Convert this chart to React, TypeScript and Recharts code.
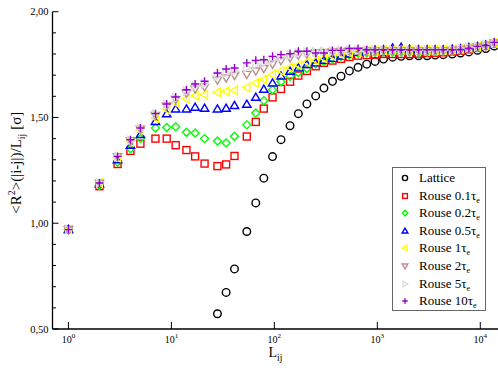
import React from 'react';
import { ScatterChart, Scatter, XAxis, YAxis } from 'recharts';

// chain length L_ij (shared by all series)
const lij = [1, 2, 3, 4, 5, 7, 9, 11, 14, 17, 21, 28, 34, 41, 54, 66, 79, 96, 116, 142, 171, 207, 252, 303, 367, 444, 536, 650, 789, 951, 1149, 1406, 1703, 2055, 2515, 3049, 3645, 4365, 5346, 6430, 7740, 9400, 11320, 13680];

const lattice = [null, null, null, null, null, null, null, null, null, null, null,
  0.572, 0.673, 0.784, 0.961, 1.096, 1.213, 1.315, 1.395, 1.461, 1.518, 1.564, 1.602, 1.639, 1.671, 1.695, 1.72, 1.737, 1.752, 1.765, 1.776, 1.785, 1.789, 1.792, 1.792, 1.792, 1.795, 1.797, 1.8, 1.805, 1.81, 1.818, 1.826, 1.838];
const rouse01 = [0.97, 1.175, 1.28, 1.342, 1.376, 1.4, 1.4, 1.369, 1.346, 1.316, 1.282, 1.27, 1.278, 1.318, 1.41, 1.479, 1.542, 1.595, 1.635, 1.669, 1.698, 1.72, 1.742, 1.758, 1.769, 1.777, 1.786, 1.792, 1.795, 1.797, 1.8, 1.8, 1.8, 1.8, 1.802, 1.804, 1.806, 1.808, 1.812, 1.816, 1.822, 1.83, 1.838, 1.85];
const rouse02 = [0.97, 1.18, 1.288, 1.352, 1.4, 1.45, 1.453, 1.456, 1.43, 1.427, 1.4, 1.389, 1.379, 1.411, 1.465, 1.521, 1.579, 1.631, 1.669, 1.694, 1.713, 1.732, 1.753, 1.765, 1.777, 1.789, 1.797, 1.803, 1.806, 1.808, 1.81, 1.81, 1.81, 1.81, 1.81, 1.81, 1.812, 1.814, 1.816, 1.82, 1.825, 1.831, 1.839, 1.85];
const rouse05 = [0.97, 1.185, 1.3, 1.368, 1.419, 1.481, 1.517, 1.54, 1.54, 1.548, 1.543, 1.54, 1.543, 1.556, 1.562, 1.595, 1.633, 1.663, 1.696, 1.718, 1.734, 1.75, 1.758, 1.77, 1.78, 1.79, 1.8, 1.808, 1.814, 1.818, 1.82, 1.828, 1.832, 1.822, 1.82, 1.82, 1.82, 1.82, 1.822, 1.825, 1.83, 1.835, 1.842, 1.852];
const rouse1 = [0.97, 1.19, 1.31, 1.385, 1.44, 1.498, 1.537, 1.569, 1.588, 1.603, 1.608, 1.619, 1.624, 1.628, 1.642, 1.663, 1.679, 1.702, 1.72, 1.736, 1.748, 1.762, 1.77, 1.78, 1.79, 1.798, 1.805, 1.81, 1.814, 1.816, 1.818, 1.82, 1.82, 1.82, 1.82, 1.82, 1.82, 1.82, 1.822, 1.825, 1.83, 1.835, 1.842, 1.852];
const rouse2 = [0.97, 1.19, 1.315, 1.39, 1.445, 1.51, 1.555, 1.585, 1.615, 1.635, 1.645, 1.677, 1.687, 1.699, 1.704, 1.72, 1.732, 1.752, 1.769, 1.783, 1.794, 1.8, 1.805, 1.808, 1.81, 1.812, 1.814, 1.815, 1.815, 1.815, 1.815, 1.815, 1.815, 1.815, 1.815, 1.815, 1.815, 1.815, 1.818, 1.822, 1.828, 1.834, 1.842, 1.852];
const rouse5 = [0.97, 1.19, 1.315, 1.392, 1.448, 1.515, 1.56, 1.592, 1.624, 1.648, 1.66, 1.695, 1.71, 1.718, 1.735, 1.75, 1.758, 1.772, 1.785, 1.795, 1.805, 1.808, 1.81, 1.812, 1.814, 1.816, 1.818, 1.818, 1.818, 1.818, 1.818, 1.818, 1.818, 1.818, 1.818, 1.818, 1.818, 1.818, 1.82, 1.824, 1.83, 1.835, 1.842, 1.852];
const rouse10 = [0.97, 1.19, 1.316, 1.395, 1.45, 1.518, 1.564, 1.597, 1.631, 1.658, 1.671, 1.71, 1.729, 1.734, 1.758, 1.77, 1.773, 1.789, 1.797, 1.802, 1.813, 1.813, 1.805, 1.805, 1.817, 1.817, 1.826, 1.826, 1.82, 1.82, 1.82, 1.82, 1.82, 1.82, 1.82, 1.82, 1.82, 1.82, 1.82, 1.82, 1.826, 1.836, 1.84, 1.855];

const xTicks = [1, 10, 100, 1000, 10000];
const yTicks = [0.5, 0.6, 0.7, 0.8, 0.9, 1.0, 1.1, 1.2, 1.3, 1.4, 1.5, 1.6, 1.7, 1.8, 1.9, 2.0];

const FONT = "'Liberation Serif', 'Times New Roman', serif";

type Kind = 'circle' | 'square' | 'diamond' | 'up' | 'left' | 'down' | 'right' | 'plus';

const series: { name: string; sub: boolean; values: (number | null)[]; kind: Kind; color: string }[] = [
  { name: 'Lattice', sub: false, values: lattice, kind: 'circle', color: '#000000' },
  { name: 'Rouse 0.1τ', sub: true, values: rouse01, kind: 'square', color: '#ff0000' },
  { name: 'Rouse 0.2τ', sub: true, values: rouse02, kind: 'diamond', color: '#00ff00' },
  { name: 'Rouse 0.5τ', sub: true, values: rouse05, kind: 'up', color: '#0000ff' },
  { name: 'Rouse 1τ', sub: true, values: rouse1, kind: 'left', color: '#ffff00' },
  { name: 'Rouse 2τ', sub: true, values: rouse2, kind: 'down', color: '#bc8f8f' },
  { name: 'Rouse 5τ', sub: true, values: rouse5, kind: 'right', color: '#dcdcdc' },
  { name: 'Rouse 10τ', sub: true, values: rouse10, kind: 'plus', color: '#9400d3' },
];

function Marker({ kind, color, cx, cy, s = 1 }: { kind: Kind; color: string; cx: number; cy: number; s?: number }) {
  const p = { fill: 'none', stroke: color, strokeWidth: 1.4 };
  const h = 4 * s;
  const t = 4.2 * s;
  switch (kind) {
    case 'circle':
      return <circle cx={cx} cy={cy} r={3.8 * s} {...p} />;
    case 'square':
      return <rect x={cx - 3.5 * s} y={cy - 3.5 * s} width={7 * s} height={7 * s} {...p} />;
    case 'diamond':
      return <polygon points={`${cx},${cy - h} ${cx + h},${cy} ${cx},${cy + h} ${cx - h},${cy}`} {...p} />;
    case 'up':
      return <polygon points={`${cx},${cy - t} ${cx + t},${cy + t * 0.7} ${cx - t},${cy + t * 0.7}`} {...p} />;
    case 'down':
      return <polygon points={`${cx},${cy + t} ${cx + t},${cy - t * 0.7} ${cx - t},${cy - t * 0.7}`} {...p} />;
    case 'left':
      return <polygon points={`${cx - t},${cy} ${cx + t * 0.7},${cy - t} ${cx + t * 0.7},${cy + t}`} {...p} />;
    case 'right':
      return <polygon points={`${cx + t},${cy} ${cx - t * 0.7},${cy - t} ${cx - t * 0.7},${cy + t}`} {...p} />;
    default:
      return <path d={`M${cx - h},${cy}H${cx + h}M${cx},${cy - h}V${cy + h}`} {...p} strokeWidth={1.4} />;
  }
}

const BottomTick = (props: any) => {
  const { x, y, payload } = props;
  const exp = Math.round(Math.log10(payload.value));
  return (
    <g>
      <line x1={x} x2={x} y1={y} y2={y - 7} stroke="#000" strokeWidth={1} />
      <text x={x} y={y + 14} textAnchor="middle" fontFamily={FONT} fontSize={10} fill="#000">
        <tspan>10</tspan>
        <tspan dy={-5} fontSize={7}>{exp}</tspan>
      </text>
    </g>
  );
};

const TopTick = (props: any) => {
  const { x, y } = props;
  return <line x1={x} x2={x} y1={y} y2={y + 7} stroke="#000" strokeWidth={1} />;
};

const LeftTick = (props: any) => {
  const { x, y, payload } = props;
  const v = payload.value;
  const major = Math.abs(v * 2 - Math.round(v * 2)) < 1e-6;
  return (
    <g>
      <line x1={x} x2={x + (major ? 6 : 3.5)} y1={y} y2={y} stroke="#000" strokeWidth={1} />
      {major && (
        <text x={x - 4} y={y + 3.5} textAnchor="end" fontFamily={FONT} fontSize={10.5} fill="#000">
          {v.toFixed(2).replace('.', ',')}
        </text>
      )}
    </g>
  );
};

function Legend() {
  return (
    <div
      style={{
        position: 'absolute',
        left: 392,
        top: 167,
        width: 92,
        height: 142,
        border: '1px solid #666',
        background: '#fff',
        fontFamily: FONT,
        fontSize: 13,
        color: '#000',
      }}
    >
      {series.map((s, i) => (
        <div key={s.name} style={{ position: 'absolute', left: 0, top: 1 + i * 17.6, height: 17.6, width: 92 }}>
          <svg width={20} height={18} style={{ position: 'absolute', left: 2, top: 0 }}>
            <Marker kind={s.kind} color={s.color} cx={10} cy={9} s={0.68} />
          </svg>
          <span style={{ position: 'absolute', left: 26, top: 0, lineHeight: '17px', whiteSpace: 'nowrap' }}>
            {s.name}
            {s.sub && <span style={{ fontSize: 8, position: 'relative', top: 3 }}>e</span>}
          </span>
        </div>
      ))}
    </div>
  );
}

export default function App() {
  return (
    <div style={{ position: 'absolute', left: 0, top: 0, width: 498, height: 385, overflow: 'hidden', background: '#fff' }}>
      <ScatterChart width={500} height={385} margin={{ top: 11.7, right: 1.6, bottom: 0, left: 0 }}>
        <XAxis
          type="number"
          dataKey="x"
          scale="log"
          domain={[0.7, 15000]}
          allowDataOverflow
          ticks={xTicks}
          height={56}
          tickSize={0}
          tickMargin={0}
          tickLine={false}
          axisLine={{ stroke: '#000', strokeWidth: 1.3 }}
          tick={<BottomTick />}
          interval={0}
          label={{
            content: (
              <text x={277} y={360} textAnchor="middle" fontFamily={FONT} fontSize={14} fill="#000">
                <tspan>L</tspan>
                <tspan dy={4} fontSize={9.5}>ij</tspan>
              </text>
            ),
          }}
        />
        <XAxis
          xAxisId="top"
          orientation="top"
          type="number"
          dataKey="x"
          scale="log"
          domain={[0.7, 15000]}
          allowDataOverflow
          ticks={xTicks}
          height={0}
          tickSize={0}
          tickMargin={0}
          tickLine={false}
          interval={0}
          axisLine={{ stroke: '#000', strokeWidth: 1.3 }}
          tick={<TopTick />}
        />
        <YAxis
          type="number"
          dataKey="y"
          domain={[0.5, 2.0]}
          allowDataOverflow
          ticks={yTicks}
          interval={0}
          width={52.5}
          tickSize={0}
          tickMargin={0}
          tickLine={false}
          axisLine={{ stroke: '#000', strokeWidth: 1.3 }}
          tick={<LeftTick />}
          label={{
            content: (
              <text
                x={20}
                y={169}
                transform="rotate(-90, 20, 169)"
                textAnchor="middle"
                fontFamily={FONT}
                fontSize={15}
                fill="#000"
              >
                <tspan>&lt;R</tspan>
                <tspan dy={-6} fontSize={10}>2</tspan>
                <tspan dy={6}>&gt;(|i-j|)/L</tspan>
                <tspan dy={4} fontSize={10}>ij</tspan>
                <tspan dy={-4}> [σ]</tspan>
              </text>
            ),
          }}
        />
        {series.map((s) => (
          <Scatter
            key={s.name}
            name={s.name}
            data={lij
              .map((x, i) => ({ x, y: s.values[i] }))
              .filter((d) => d.y !== null)}
            isAnimationActive={false}
            shape={(p: any) => <Marker kind={s.kind} color={s.color} cx={p.cx} cy={p.cy} />}
          />
        ))}
      </ScatterChart>
      <Legend />
    </div>
  );
}
